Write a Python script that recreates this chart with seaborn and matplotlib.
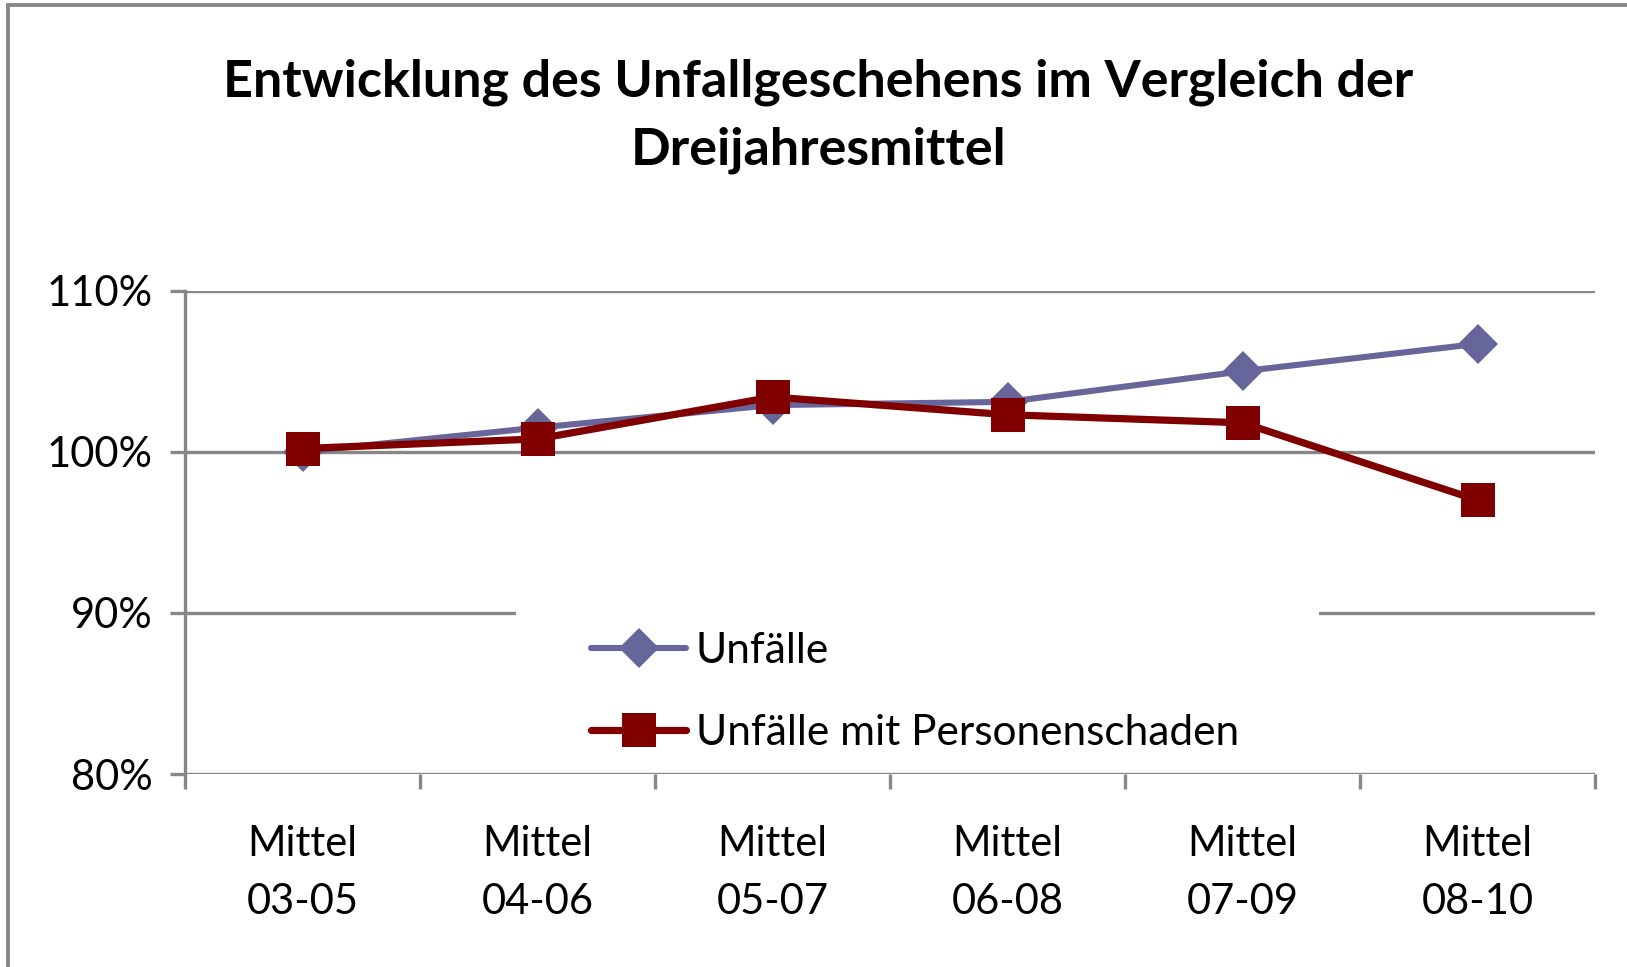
import matplotlib
matplotlib.use("Agg")
import matplotlib.pyplot as plt
import seaborn as sns
import pandas as pd
import numpy as np
from matplotlib.patches import Rectangle

categories = ["Mittel\n03-05", "Mittel\n04-06", "Mittel\n05-07", "Mittel\n06-08", "Mittel\n07-09", "Mittel\n08-10"]
unfaelle = [100.0, 101.5, 102.9, 103.1, 105.0, 106.7]
personenschaden = [100.2, 100.8, 103.4, 102.3, 101.8, 97.0]
series_names = ["Unfälle", "Unfälle mit Personenschaden"]
yticks = [80, 90, 100, 110]
title = "Entwicklung des Unfallgeschehens im Vergleich der\nDreijahresmittel"

df = pd.DataFrame({
    "cat": categories * 2,
    "x": list(range(len(categories))) * 2,
    "val": unfaelle + personenschaden,
    "series": [series_names[0]] * len(categories) + [series_names[1]] * len(categories),
})

sns.set_style("white")
plt.rcParams["font.family"] = ["Lato", "DejaVu Sans"]
plt.rcParams["text.color"] = "black"
plt.rcParams["xtick.color"] = "black"
plt.rcParams["ytick.color"] = "black"

W, H = 1627, 967
fig = plt.figure(figsize=(W / 100, H / 100), dpi=100)
ax = fig.add_axes([185 / W, 1 - 774 / H, (1595 - 185) / W, (774 - 290.7) / H])

grey = "#878787"
palette = {series_names[0]: "#66669A", series_names[1]: "#800000"}

for s, mk, ms, lw in [(series_names[0], "D", 20, 4.4), (series_names[1], "s", 24, 5.2)]:
    sub = df[df["series"] == s]
    sns.lineplot(data=sub, x="x", y="val", ax=ax, color=palette[s], marker=mk,
                 markersize=ms, linewidth=lw, markeredgewidth=0, label=s,
                 markeredgecolor=palette[s], zorder=3 if s == series_names[1] else 2)

ax.set_xlim(-0.5, len(categories) - 0.5)
ax.set_ylim(80, 110)
ax.set_yticks(yticks)
ax.set_yticklabels([f"{v}%" for v in yticks])
ax.set_xticks(range(len(categories)))
ax.set_xticklabels(categories, linespacing=1.62)
ax.set_xticks(np.arange(-0.5, len(categories), 1.0), minor=True)
ax.set_xlabel("")
ax.set_ylabel("")

for v in yticks:
    ax.axhline(v, color=grey, lw=2.4, zorder=1)

# white legend area interrupting the 90 % gridline
ax.add_patch(Rectangle((0.235, 0.30), 0.569, 0.10, transform=ax.transAxes,
                       facecolor="white", edgecolor="none", zorder=1.5))

for side in ["top", "right", "bottom"]:
    ax.spines[side].set_visible(False)
ax.spines["left"].set_color(grey)
ax.spines["left"].set_linewidth(2.4)

ax.tick_params(axis="x", which="major", length=0, pad=37, labelsize=30, labelcolor="black")
ax.tick_params(axis="x", which="minor", length=11, width=2.4, color=grey, direction="out", bottom=True)
ax.tick_params(axis="y", length=11, width=2.4, color=grey, direction="out", left=True, pad=12.5,
               labelsize=30, labelcolor="black")

leg = ax.legend(loc="upper left", bbox_to_anchor=(0.279, 0.321), frameon=False,
                fontsize=30.5, handlelength=2.25, handletextpad=0.22,
                labelspacing=1.05, borderpad=0.3, borderaxespad=0)
leg.set_zorder(5)
for t in leg.get_texts():
    t.set_color("black")

fig.text(0.503, 1 - 116 / H, title, ha="center", va="center", fontsize=37.5,
         fontweight="bold", linespacing=1.55, color="black")

fig.patches.append(Rectangle((8 / W, -0.2), 1.5, 1.2 - 5 / H, transform=fig.transFigure,
                             fill=False, edgecolor=grey, linewidth=2.8))

fig.savefig("out.png", dpi=100, facecolor="white")
